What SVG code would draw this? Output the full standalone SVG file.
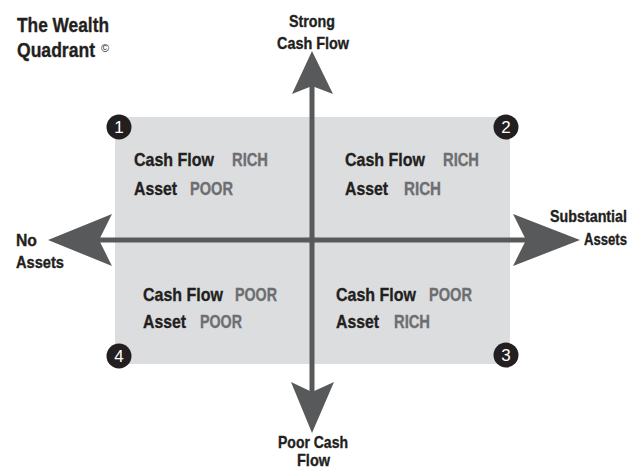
<svg xmlns="http://www.w3.org/2000/svg" width="636" height="468" viewBox="0 0 636 468">
<style>
.t{font-family:"Liberation Sans",Arial,sans-serif;font-weight:bold;fill:#231f20;stroke:#231f20;stroke-width:0.35}
.q{font-size:19px}
.g{fill:#6d6e71;stroke:#6d6e71}
.ax{font-size:16.5px}
.num{font-family:"Liberation Sans",Arial,sans-serif;font-size:17px;fill:#ffffff;text-anchor:middle}
.ar{fill:#58595b}
</style>
<rect width="636" height="468" fill="#ffffff"/>
<g id="title">
<text class="t" x="17" y="32" font-size="21" textLength="92" lengthAdjust="spacingAndGlyphs">The Wealth</text>
<text class="t" x="17" y="57" font-size="21" textLength="78" lengthAdjust="spacingAndGlyphs">Quadrant</text>
<text x="101" y="52" font-family="Liberation Sans,Arial,sans-serif" font-size="11" fill="#231f20">©</text>
</g>
<g id="quadrants">
<rect x="115" y="117" width="395" height="247" fill="#dcdddf"/>
</g>
<g id="connectors">
<rect class="ar" x="309.5" y="86" width="5" height="306"/>
<rect class="ar" x="99" y="237.5" width="427" height="5"/>
<polygon class="ar" points="312,51 333,94 312,86 292,94"/>
<polygon class="ar" points="312,433 334,382 312,392 291,382"/>
<polygon class="ar" points="48,240 112,214 99,240 112,266"/>
<polygon class="ar" points="580,240 513,214 526,240 513,266"/>
</g>
<g id="q1">
<circle cx="119" cy="127" r="12.5" fill="#231f20"/>
<text class="num" x="119" y="133">1</text>
<text class="t q" x="134" y="166" textLength="80" lengthAdjust="spacingAndGlyphs">Cash Flow</text>
<text class="t q g" x="232" y="166" textLength="36" lengthAdjust="spacingAndGlyphs">RICH</text>
<text class="t q" x="134" y="195" textLength="43" lengthAdjust="spacingAndGlyphs">Asset</text>
<text class="t q g" x="190" y="195" textLength="43" lengthAdjust="spacingAndGlyphs">POOR</text>
</g>
<g id="q2">
<circle cx="506" cy="127" r="12.5" fill="#231f20"/>
<text class="num" x="506" y="133">2</text>
<text class="t q" x="345" y="166" textLength="80" lengthAdjust="spacingAndGlyphs">Cash Flow</text>
<text class="t q g" x="443" y="166" textLength="36" lengthAdjust="spacingAndGlyphs">RICH</text>
<text class="t q" x="345" y="195" textLength="43" lengthAdjust="spacingAndGlyphs">Asset</text>
<text class="t q g" x="404" y="195" textLength="37" lengthAdjust="spacingAndGlyphs">RICH</text>
</g>
<g id="q3">
<circle cx="506" cy="355" r="12.5" fill="#231f20"/>
<text class="num" x="506" y="361">3</text>
<text class="t q" x="336" y="301" textLength="80" lengthAdjust="spacingAndGlyphs">Cash Flow</text>
<text class="t q g" x="429" y="301" textLength="43" lengthAdjust="spacingAndGlyphs">POOR</text>
<text class="t q" x="336" y="328" textLength="43" lengthAdjust="spacingAndGlyphs">Asset</text>
<text class="t q g" x="394" y="328" textLength="36" lengthAdjust="spacingAndGlyphs">RICH</text>
</g>
<g id="q4">
<circle cx="119" cy="356" r="12.5" fill="#231f20"/>
<text class="num" x="119" y="362">4</text>
<text class="t q" x="143" y="301" textLength="80" lengthAdjust="spacingAndGlyphs">Cash Flow</text>
<text class="t q g" x="235" y="301" textLength="42" lengthAdjust="spacingAndGlyphs">POOR</text>
<text class="t q" x="143" y="328" textLength="43" lengthAdjust="spacingAndGlyphs">Asset</text>
<text class="t q g" x="200" y="328" textLength="42" lengthAdjust="spacingAndGlyphs">POOR</text>
</g>
<g id="label-top">
<text class="t ax" x="289" y="27" textLength="46" lengthAdjust="spacingAndGlyphs">Strong</text>
<text class="t ax" x="277" y="49" textLength="72" lengthAdjust="spacingAndGlyphs">Cash Flow</text>
</g>
<g id="label-bottom">
<text class="t ax" x="278" y="448" textLength="70" lengthAdjust="spacingAndGlyphs">Poor Cash</text>
<text class="t ax" x="297" y="466" textLength="33" lengthAdjust="spacingAndGlyphs">Flow</text>
</g>
<g id="label-left">
<text class="t ax" x="16" y="246" textLength="21" lengthAdjust="spacingAndGlyphs">No</text>
<text class="t ax" x="16" y="268" textLength="48" lengthAdjust="spacingAndGlyphs">Assets</text>
</g>
<g id="label-right">
<text class="t ax" x="550" y="222" textLength="77" lengthAdjust="spacingAndGlyphs">Substantial</text>
<text class="t ax" x="584" y="245" textLength="43" lengthAdjust="spacingAndGlyphs">Assets</text>
</g>
</svg>
